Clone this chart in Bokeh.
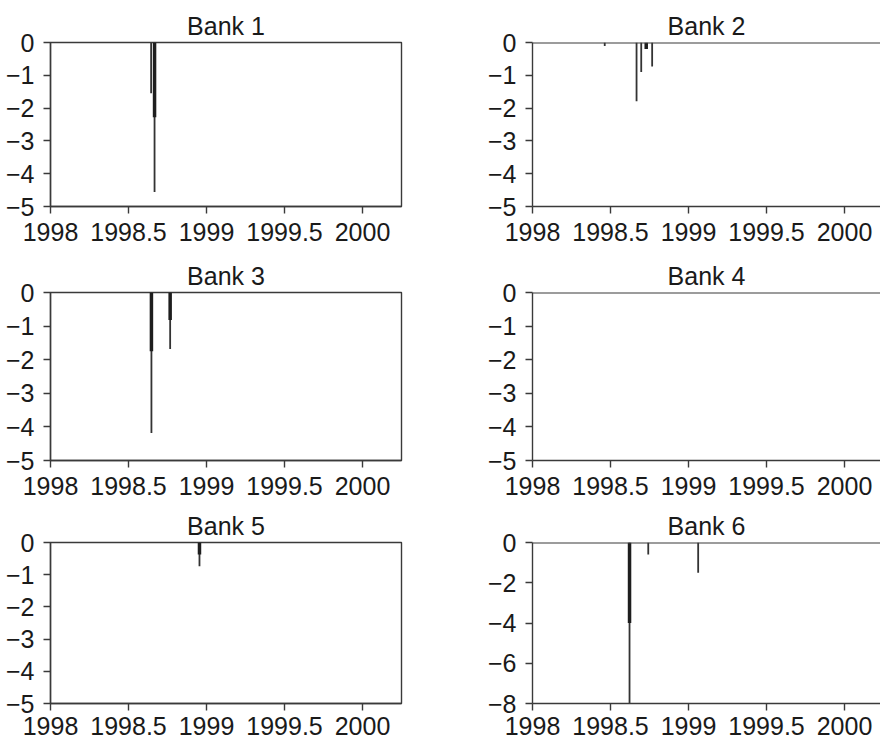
from bokeh.plotting import figure
from bokeh.layouts import column, row
from bokeh.models import Range1d, FixedTicker, Span
from bokeh.embed import file_html
from bokeh.resources import INLINE

# ---------------- data ----------------
TITLES = ["Bank 1", "Bank 2", "Bank 3", "Bank 4", "Bank 5", "Bank 6"]

# thin lines (full value) and thick bars (partial value): (time, value)
b1_thin_t = [1998.645, 1998.667]
b1_thin_v = [-1.55, -4.56]
b1_thick_t = [1998.667]
b1_thick_v = [-2.28]

b2_thin_t = [1998.463, 1998.667, 1998.697, 1998.767]
b2_thin_v = [-0.11, -1.79, -0.90, -0.73]
b2_thick_t = [1998.729]
b2_thick_v = [-0.20]

b3_thin_t = [1998.647, 1998.767]
b3_thin_v = [-4.18, -1.68]
b3_thick_t = [1998.647, 1998.767]
b3_thick_v = [-1.75, -0.82]

b4_thin_t = []
b4_thin_v = []
b4_thick_t = []
b4_thick_v = []

b5_thin_t = [1998.955]
b5_thin_v = [-0.74]
b5_thick_t = [1998.955]
b5_thick_v = [-0.37]

b6_thin_t = [1998.622, 1998.742, 1999.062]
b6_thin_v = [-8.0, -0.60, -1.50]
b6_thick_t = [1998.622]
b6_thick_v = [-4.0]

XLIM = (1998, 2000.25)
XTICKS = [1998, 1998.5, 1999, 1999.5, 2000]
XLABELS = ["1998", "1998.5", "1999", "1999.5", "2000"]
YTICKS_5 = [0, -1, -2, -3, -4, -5]
YLABELS_5 = ["0", "\u22121", "\u22122", "\u22123", "\u22124", "\u22125"]
YTICKS_8 = [0, -2, -4, -6, -8]
YLABELS_8 = ["0", "\u22122", "\u22124", "\u22126", "\u22128"]

SERIES = [
    (b1_thin_t, b1_thin_v, b1_thick_t, b1_thick_v),
    (b2_thin_t, b2_thin_v, b2_thick_t, b2_thick_v),
    (b3_thin_t, b3_thin_v, b3_thick_t, b3_thick_v),
    (b4_thin_t, b4_thin_v, b4_thick_t, b4_thick_v),
    (b5_thin_t, b5_thin_v, b5_thick_t, b5_thick_v),
    (b6_thin_t, b6_thin_v, b6_thick_t, b6_thick_v),
]

FONT = "Liberation Sans"
FS = "25px"
LINE = "#3a3a3a"
TEXT = "#1a1a1a"

ROW_H = [250, 250, 245]
ROW_BOTTOM = [44, 40, 42]
X_STANDOFF = [9, 9, 6]


def make(i):
    r = i // 2
    left_col = (i % 2 == 0)
    thin_t, thin_v, thick_t, thick_v = SERIES[i]
    if left_col:
        w, mbl, mbr, xend = 440, 50, 39, XLIM[1]
    else:
        w, mbl, mbr, xend = 440, 92, 0, XLIM[0] + 348 / 156.0
    if i == 5:
        ymin, yt, yl = -8, YTICKS_8, YLABELS_8
    else:
        ymin, yt, yl = -5, YTICKS_5, YLABELS_5
    p = figure(width=w, height=ROW_H[r], output_backend="svg", toolbar_location=None,
               x_range=Range1d(XLIM[0], xend), y_range=Range1d(ymin, 0),
               min_border_left=mbl, min_border_right=mbr,
               min_border_top=42, min_border_bottom=ROW_BOTTOM[r],
               title=TITLES[i])
    p.title.align = "center"
    p.title.text_font = FONT
    p.title.text_font_size = FS
    p.title.text_font_style = "normal"
    p.title.text_color = TEXT
    p.title.standoff = 6
    p.xgrid.visible = False
    p.ygrid.visible = False
    p.background_fill_color = "white"
    p.border_fill_color = "white"
    if left_col:
        p.outline_line_color = LINE
        p.outline_line_width = 1.4
    else:
        p.outline_line_color = None
        p.add_layout(Span(location=0, dimension="width", line_color=LINE, line_width=2.2))

    p.xaxis.ticker = FixedTicker(ticks=XTICKS)
    p.xaxis.major_label_overrides = {t: l for t, l in zip(XTICKS, XLABELS)}
    p.yaxis.ticker = FixedTicker(ticks=yt)
    p.yaxis.major_label_overrides = {t: l for t, l in zip(yt, yl)}
    for ax in (p.xaxis, p.yaxis):
        ax.axis_line_color = LINE
        ax.axis_line_width = 1.4
        ax.major_tick_line_color = LINE
        ax.major_tick_line_width = 1.4
        ax.major_tick_in = 0
        ax.major_tick_out = 7
        ax.minor_tick_line_color = None
        ax.major_label_text_font = FONT
        ax.major_label_text_font_size = FS
        ax.major_label_text_color = TEXT
    p.xaxis.major_label_standoff = X_STANDOFF[r]
    p.yaxis.major_label_standoff = 9

    if thin_t:
        p.segment(x0=thin_t, y0=[0] * len(thin_t), x1=thin_t, y1=thin_v,
                  line_color="#333333", line_width=1.8)
    if thick_t:
        p.segment(x0=thick_t, y0=[0] * len(thick_t), x1=thick_t, y1=thick_v,
                  line_color="#1e1e1e", line_width=3.5)
    return p


figs = [make(i) for i in range(6)]
layout = column(row(figs[0], figs[1]), row(figs[2], figs[3]), row(figs[4], figs[5]))
open("out.html", "w").write(file_html(layout, INLINE))
